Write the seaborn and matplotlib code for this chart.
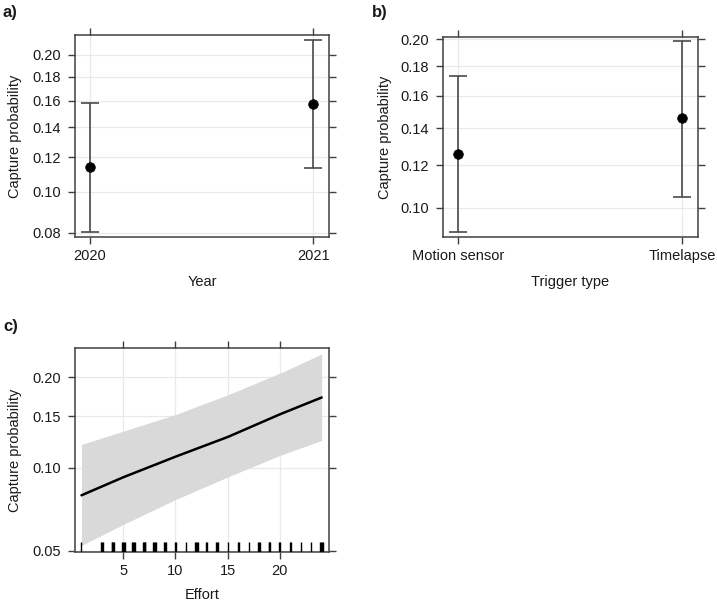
import numpy as np
import pandas as pd
import matplotlib
matplotlib.use("Agg")
import matplotlib.pyplot as plt
from matplotlib.ticker import FixedLocator, FuncFormatter, NullLocator
import seaborn as sns

# ---------------- data ----------------
years = ["2020", "2021"]
year_est = [0.1138, 0.1576]
year_lo = [0.0804, 0.1133]
year_hi = [0.1580, 0.2143]

triggers = ["Motion sensor", "Timelapse"]
trig_est = [0.1260, 0.1461]
trig_lo = [0.0898, 0.1046]
trig_hi = [0.1733, 0.1989]

effort_x = [1, 5, 10, 15, 20, 24]
effort_fit = [0.0798, 0.0925, 0.1092, 0.1276, 0.1520, 0.1725]
effort_lo = [0.0524, 0.0626, 0.0770, 0.0927, 0.1103, 0.1242]
effort_hi = [0.1203, 0.1335, 0.1517, 0.1759, 0.2058, 0.2354]

rug_effort = [1, 3, 4, 5, 6, 7, 8, 9, 10, 11, 12, 13, 14, 15, 16, 17, 18, 19, 20, 21, 22, 23, 24]
rug_count = [1, 3, 4, 4, 4, 4, 4, 3, 2, 1, 4, 2, 3, 1, 2, 1, 3, 3, 2, 2, 1, 1, 4]

ticks_a = [0.08, 0.10, 0.12, 0.14, 0.16, 0.18, 0.20]
ticks_b = [0.10, 0.12, 0.14, 0.16, 0.18, 0.20]
ticks_c = [0.05, 0.10, 0.15, 0.20]
xticks_c = [5, 10, 15, 20]

# ---------------- style ----------------
sns.set_style("white")
plt.rcParams["font.family"] = ["Liberation Sans", "DejaVu Sans"]
FS = 10.5
EDGE = "#404040"
GRID = "#e9e9e9"

fig = plt.figure(figsize=(7.17, 6.03), dpi=100)
W, H = 717, 603


def add_ax(l, t, r, b):
    return fig.add_axes([l / W, 1 - b / H, (r - l) / W, (b - t) / H])


def style(ax, yticks, ylim, fmt):
    ax.set_yscale("logit")
    ax.set_ylim(*ylim)
    ax.yaxis.set_major_locator(FixedLocator(yticks))
    ax.yaxis.set_minor_locator(NullLocator())
    ax.yaxis.set_major_formatter(FuncFormatter(lambda v, p: fmt % v))
    for s in ax.spines.values():
        s.set_visible(True)
        s.set_color(EDGE)
        s.set_linewidth(1.1)
    ax.grid(True, color=GRID, lw=0.9, zorder=0)
    ax.set_axisbelow(True)
    ax.tick_params(axis="both", which="major", direction="out", length=5,
                   width=1.0, color=EDGE, labelsize=FS, labelcolor="#1a1a1a",
                   top=True, right=True, bottom=True, left=True,
                   labeltop=False, labelright=False)
    ax.tick_params(axis="y", pad=5)
    ax.tick_params(axis="x", pad=3.5)


def categorical_panel(ax, cats, est, lo, hi, xlabel, yticks, ylim, xlim, ylab_x, xlab_y):
    df = pd.DataFrame({"cat": cats, "est": est})
    pos = np.arange(len(cats))
    ax.errorbar(pos, est, yerr=[np.array(est) - np.array(lo), np.array(hi) - np.array(est)],
                fmt="none", ecolor="#4a4a4a", elinewidth=1.2, capsize=6.5, capthick=1.2, zorder=2)
    sns.scatterplot(x=pos, y=df["est"], ax=ax, color="black", s=48, edgecolor="black",
                    linewidth=0.5, zorder=3, legend=False)
    style(ax, yticks, ylim, "%.2f")
    ax.set_xticks(pos)
    ax.set_xticklabels(cats)
    ax.set_xlim(*xlim)
    ax.set_xlabel(xlabel, fontsize=FS, va="center", color="#1a1a1a")
    ax.set_ylabel("Capture probability", fontsize=FS, va="center", color="#1a1a1a")
    ax.yaxis.set_label_coords(ylab_x, 0.5)
    ax.xaxis.set_label_coords(0.5, xlab_y)


# Panel a
ax_a = add_ax(75, 35, 329, 237.3)
categorical_panel(ax_a, years, year_est, year_lo, year_hi, "Year", ticks_a,
                  (0.0781, 0.2194), (-0.065, 1.07), -0.236, -0.222)

# Panel b
ax_b = add_ax(443, 36.7, 698, 237.3)
categorical_panel(ax_b, triggers, trig_est, trig_lo, trig_hi, "Trigger type", ticks_b,
                  (0.0879, 0.2020), (-0.068, 1.072), -0.227, -0.225)

# Panel c
ax_c = add_ax(75, 348.3, 329, 551.7)
ax_c.fill_between(effort_x, effort_lo, effort_hi, color="#d9d9d9", lw=0, zorder=1)
sns.lineplot(x=effort_x, y=effort_fit, ax=ax_c, color="black", lw=1.8, zorder=3)
offsets = {1: [0.0], 2: [-0.05, 0.05], 3: [-0.09, 0.0, 0.09], 4: [-0.12, -0.04, 0.04, 0.12]}
rug_vals = []
for v, c in zip(rug_effort, rug_count):
    rug_vals.extend([v + o for o in offsets[c]])
sns.rugplot(x=rug_vals, ax=ax_c, height=0.05, color="black", linewidth=1.0,
            expand_margins=False, zorder=4)
style(ax_c, ticks_c, (0.0497, 0.2447), "%.2f")
ax_c.set_xlim(0.38, 24.7)
ax_c.xaxis.set_major_locator(FixedLocator(xticks_c))
ax_c.xaxis.set_minor_locator(NullLocator())
ax_c.set_xlabel("Effort", fontsize=FS, va="center", color="#1a1a1a")
ax_c.set_ylabel("Capture probability", fontsize=FS, va="center", color="#1a1a1a")
ax_c.yaxis.set_label_coords(-0.236, 0.5)
ax_c.xaxis.set_label_coords(0.5, -0.213)

# Panel letters
for lab, x, y in [("a)", 3, 13), ("b)", 372, 12), ("c)", 3, 326)]:
    fig.text(x / W, 1 - y / H, lab, fontsize=12, fontweight="bold",
             ha="left", va="center", color="#1a1a1a")

fig.savefig("out.png", dpi=100, facecolor="white")
